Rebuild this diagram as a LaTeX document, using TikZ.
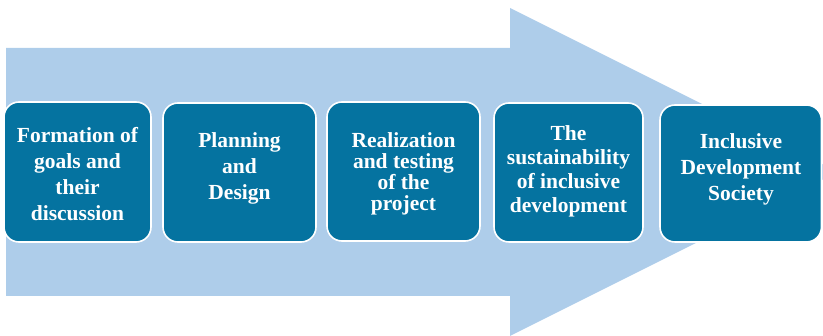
\documentclass[tikz,border=0pt]{standalone}
\usepackage{fontspec}
\setmainfont{Liberation Serif}
\begin{document}
\begin{tikzpicture}[x=1pt,y=-1pt,
  arrowfill/.style={fill=arrowblue,draw=none},
  stepbox/.style={draw=white,line width=1.6pt,fill=boxblue,rounded corners=15pt},
  steptext/.style={text=white,font=\fontsize{21.5}{26}\selectfont\bfseries,align=center,inner sep=0pt}]
\definecolor{arrowblue}{HTML}{AECDEA}
\definecolor{boxblue}{HTML}{0573A0}
\useasboundingbox (0,0) rectangle (823,336);
\clip (0,0) rectangle (823,336);
\fill[arrowfill] (6,48) -- (510,48) -- (510,8) -- (838,172) -- (510,336) -- (510,296) -- (6,296) -- cycle;
\draw[stepbox] (4,102) rectangle (151,242);
\draw[stepbox] (163,103) rectangle (316,242);
\draw[stepbox] (327,102) rectangle (480,241);
\draw[stepbox] (494,103) rectangle (643,242);
\draw[stepbox] (660,105) rectangle (821.5,242);
\node[steptext,anchor=center] (t1) at (77.5,174) {Formation of\\goals and\\their\\discussion};
\node[steptext,anchor=center] (t2) at (239.5,168) {Planning\\and\\Design};
\node[steptext,anchor=center,font=\fontsize{21.5}{21}\selectfont\bfseries] (t3) at (403.5,174) {Realization\\and testing\\of the\\project};
\node[steptext,anchor=center,font=\fontsize{21.5}{24}\selectfont\bfseries] (t4) at (568.5,171) {The\\sustainability\\of inclusive\\development};
\node[steptext,anchor=center] (t5) at (741,169) {Inclusive\\Development\\Society};
\end{tikzpicture}
\end{document}
